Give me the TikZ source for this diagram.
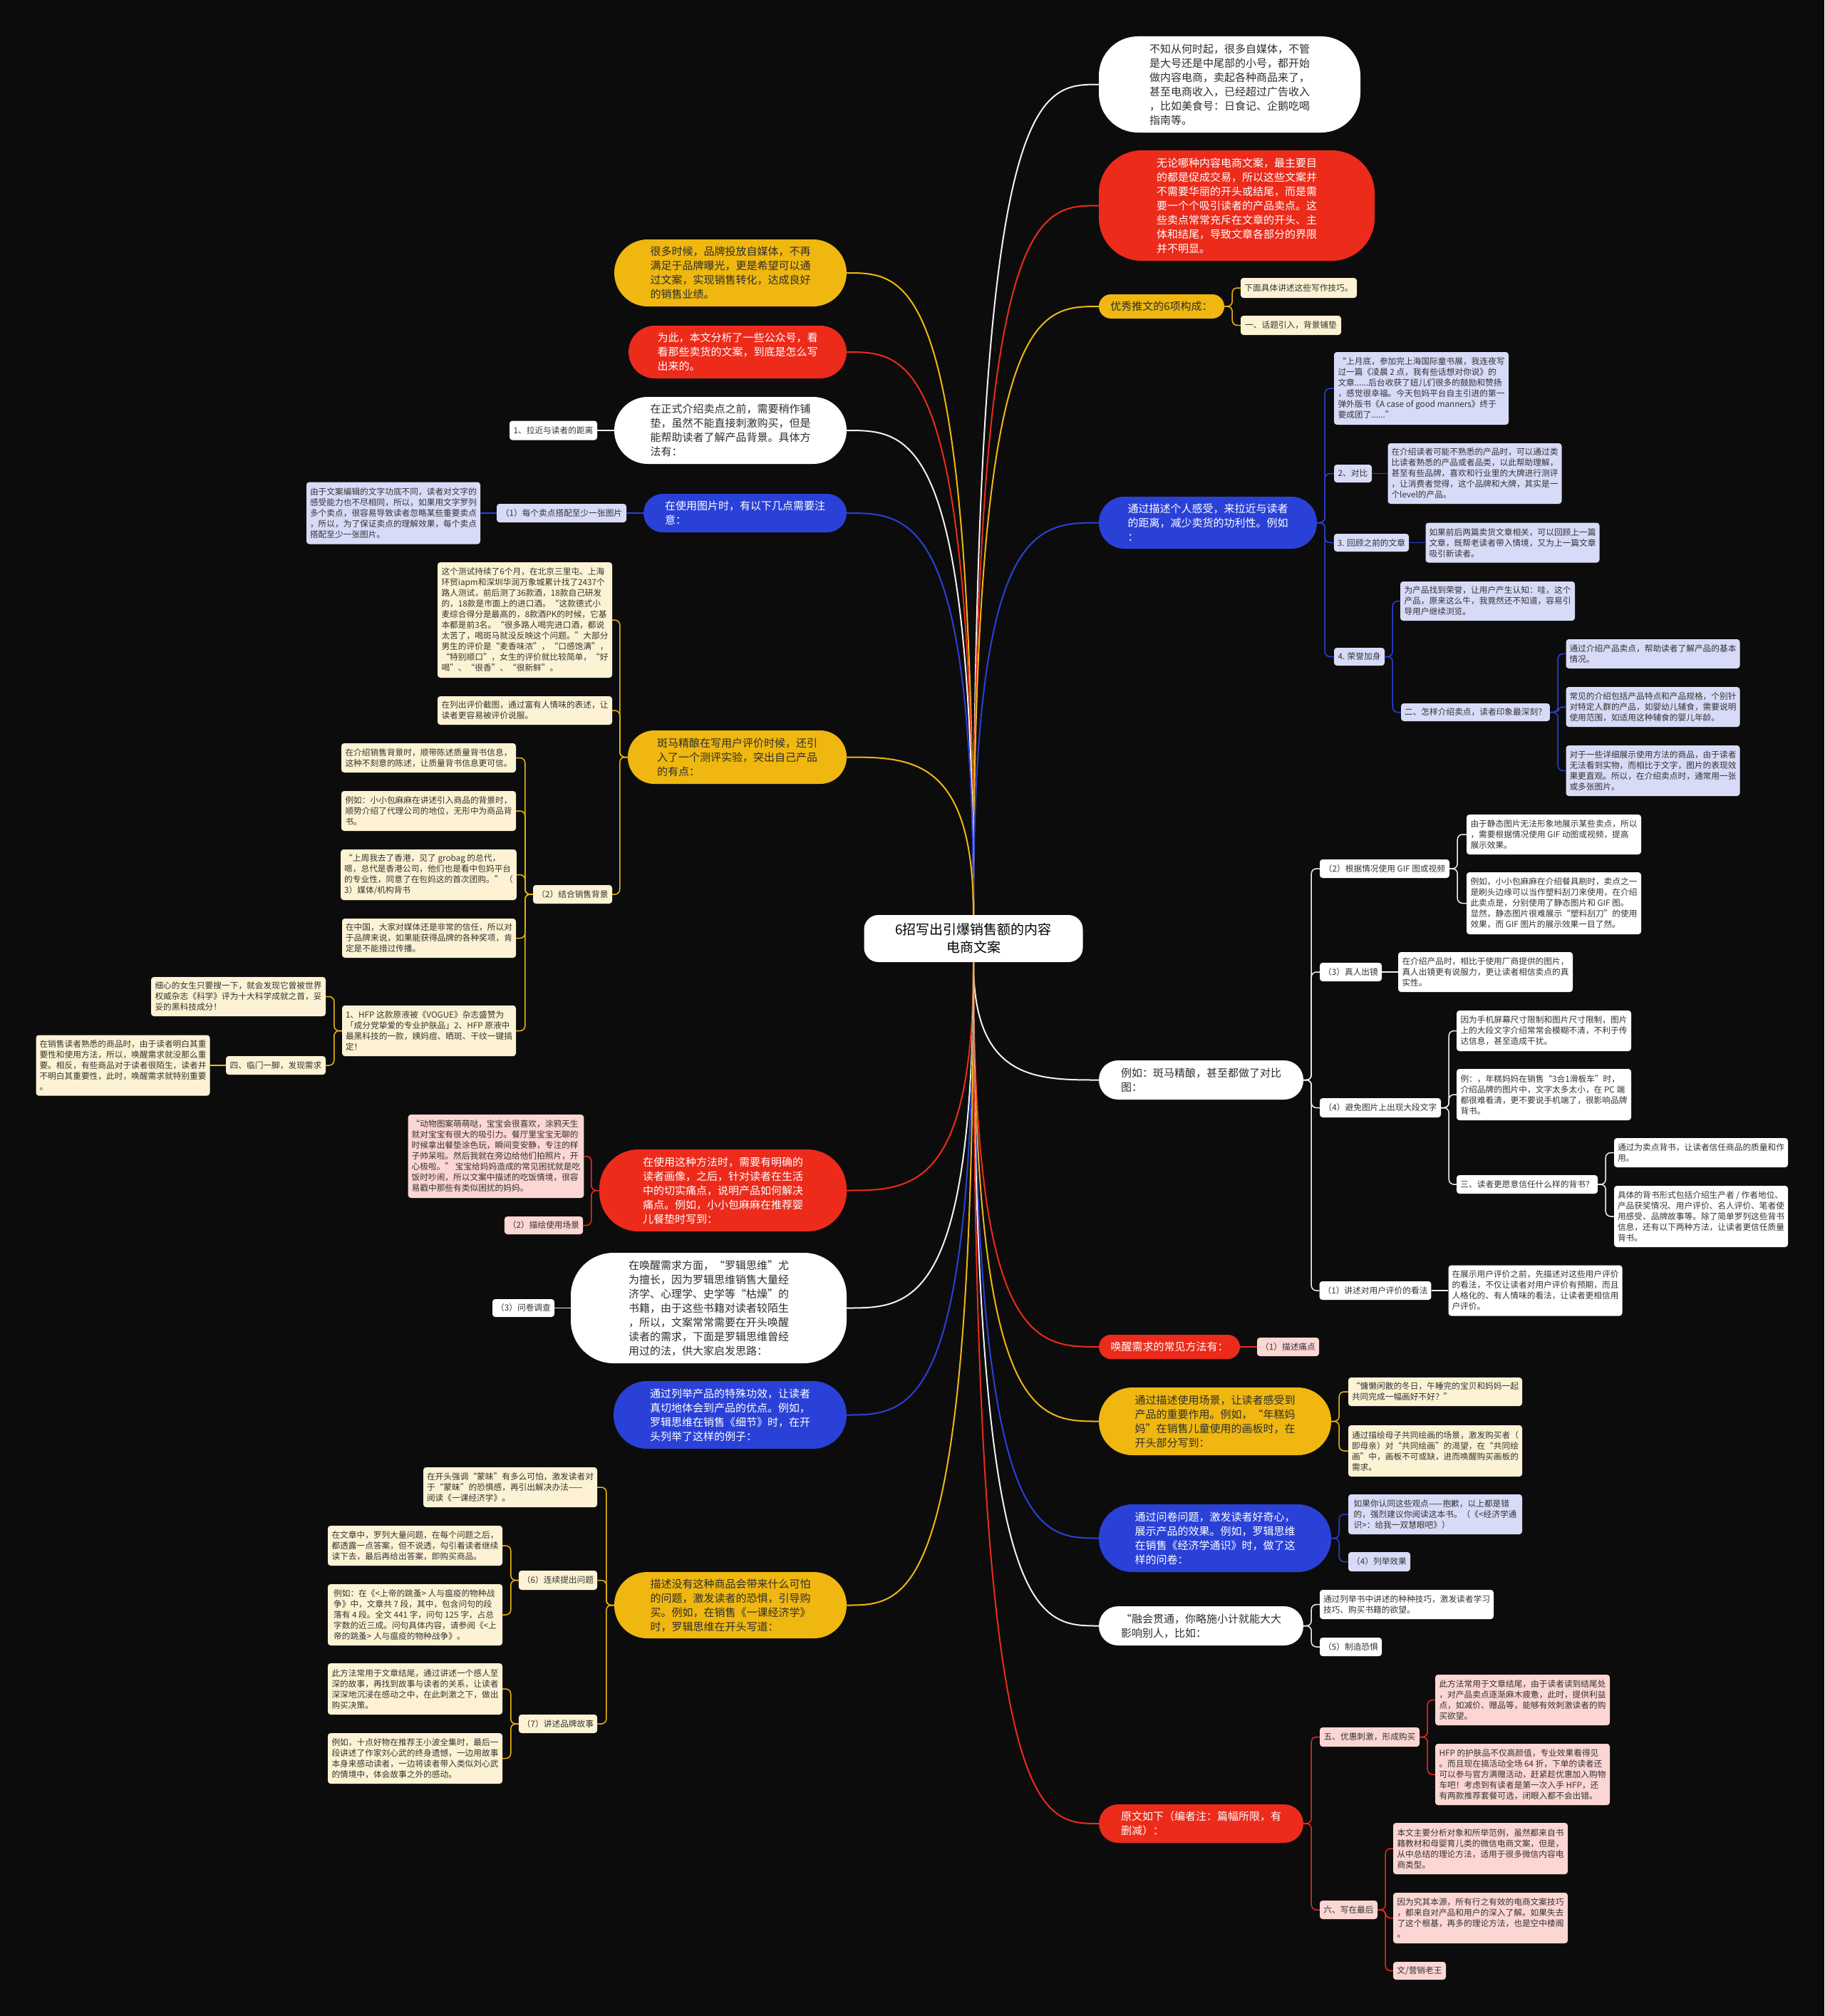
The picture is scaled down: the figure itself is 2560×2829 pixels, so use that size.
\documentclass[tikz,border=0pt]{standalone}
\usepackage{fontspec}
\setmainfont{Noto Sans CJK SC}
\usetikzlibrary{calc}
\definecolor{bgDark}{HTML}{0C0C0C}
\definecolor{topicYellow}{HTML}{EFB70F}
\definecolor{topicRed}{HTML}{EC2B1B}
\definecolor{topicBlue}{HTML}{2A41D8}
\definecolor{topicText}{HTML}{2E2E2E}
\definecolor{noteCream}{HTML}{FDF3D4}
\definecolor{noteLilac}{HTML}{D8DBF7}
\definecolor{notePink}{HTML}{FBD6D3}
\definecolor{noteText}{HTML}{333333}
\definecolor{lineWhite}{HTML}{F2F2F2}

\begin{document}
\begin{tikzpicture}[x=1pt, y=-1pt,
    rootbox/.style={fill=white, text=black, rounded corners=20pt, align=center, inner sep=0pt, font=\fontsize{19}{25}\selectfont},
    topic/.style={rounded corners=#1, align=left, inner sep=0pt, font=\fontsize{15}{20}\selectfont},
    ytopic/.style={topic=#1, fill=topicYellow, text=topicText},
    rtopic/.style={topic=#1, fill=topicRed, text=white},
    btopic/.style={topic=#1, fill=topicBlue, text=white},
    wtopic/.style={topic=#1, fill=white, text=topicText},
    note/.style={rounded corners=4pt, align=left, inner xsep=5pt, inner ysep=5pt, text=noteText, font=\fontsize{11.7}{15}\selectfont},
    ynote/.style={note, fill=noteCream},
    bnote/.style={note, fill=noteLilac},
    rnote/.style={note, fill=notePink},
    wnote/.style={note, fill=white},
    ycurve/.style={draw=topicYellow, line width=2pt},
    rcurve/.style={draw=topicRed, line width=2pt},
    bcurve/.style={draw=topicBlue, line width=2pt},
    wcurve/.style={draw=lineWhite, line width=2pt},
    ylink/.style={draw=topicYellow, line width=1.5pt, rounded corners=7pt},
    rlink/.style={draw=topicRed, line width=1.5pt, rounded corners=7pt},
    blink/.style={draw=topicBlue, line width=1.5pt, rounded corners=7pt},
    wlink/.style={draw=lineWhite, line width=1.5pt, rounded corners=7pt}]
    \def\branch#1#2#3{\draw[#1] (root.#2) .. controls (root.#2 |- #3) and ($(root.#2 |- #3)!0.5!(#3)$) .. (#3);}
    \def\toright#1#2#3{\draw[#1] (#2.east) -- ++(11,0) |- (#3.west);}
    \def\toleft#1#2#3{\draw[#1] (#2.west) -- ++(-11,0) |- (#3.east);}

    \fill[bgDark] (0,0) rectangle (2560,2829);

    \node[rootbox, minimum width=307pt, minimum height=66pt] (root) at (1366,1317) {6招写出引爆销售额的内容\\电商文案};

    % ---------- right side ----------
    \node[wtopic=55pt, minimum width=367pt, minimum height=135pt] (r1) at (1725.5,118.5) {不知从何时起，很多自媒体，不管\\是大号还是中尾部的小号，都开始\\做内容电商，卖起各种商品来了，\\甚至电商收入，已经超过广告收入\\，比如美食号：日食记、企鹅吃喝\\指南等。};
    \node[rtopic=60pt, minimum width=387pt, minimum height=155pt] (r2) at (1735.5,288.5) {无论哪种内容电商文案，最主要目\\的都是促成交易，所以这些文案并\\不需要华丽的开头或结尾，而是需\\要一个个吸引读者的产品卖点。这\\些卖点常常充斥在文章的开头、主\\体和结尾，导致文章各部分的界限\\并不明显。};

    \node[ytopic=17pt, minimum width=176pt, minimum height=34pt] (r3) at (1630,430) {优秀推文的6项构成：};
    \node[ynote, minimum width=163pt, minimum height=28pt] (r3a) at (1822.5,404) {下面具体讲述这些写作技巧。};
    \node[ynote, minimum width=141pt, minimum height=27pt] (r3b) at (1811.5,456.5) {一、话题引入，背景铺垫};

    \node[btopic=36pt, minimum width=306pt, minimum height=73pt] (r4) at (1695,733.5) {通过描述个人感受，来拉近与读者\\的距离，减少卖货的功利性。例如\\：};
    \node[bnote, minimum width=245pt, minimum height=102pt] (r4a) at (1994.5,545) {“上月底，参加完上海国际童书展，我连夜写\\过一篇《凌晨 2 点，我有些话想对你说》的\\文章......后台收获了妞儿们很多的鼓励和赞扬\\，感觉很幸福。今天包妈平台自主引进的第一\\弹外版书《A case of good manners》终于\\要成团了......”};
    \node[bnote, minimum width=53pt, minimum height=25pt] (r4b) at (1898.5,664.5) {2、对比};
    \node[bnote, minimum width=243pt, minimum height=85pt] (r4b1) at (2069.5,664.5) {在介绍读者可能不熟悉的产品时，可以通过类\\比读者熟悉的产品或者品类，以此帮助理解，\\甚至有些品牌，喜欢和行业里的大牌进行测评\\，让消费者觉得，这个品牌和大牌，其实是一\\个level的产品。};
    \node[bnote, minimum width=105pt, minimum height=25pt] (r4c) at (1924.5,761.5) {3. 回顾之前的文章};
    \node[bnote, minimum width=243pt, minimum height=56pt] (r4c1) at (2122.5,761.5) {如果前后两篇卖货文章相关，可以回顾上一篇\\文章，既帮老读者带入情境，又为上一篇文章\\吸引新读者。};
    \node[bnote, minimum width=71pt, minimum height=25pt] (r4d) at (1907.5,921.5) {4. 荣誉加身};
    \node[bnote, minimum width=245pt, minimum height=55pt] (r4d1) at (2087.5,843.5) {为产品找到荣誉，让用户产生认知：哇，这个\\产品，原来这么牛，我竟然还不知道，容易引\\导用户继续浏览。};
    \node[bnote, minimum width=207pt, minimum height=25pt] (r4d2) at (2070.5,999.5) {二、怎样介绍卖点，读者印象最深刻？};
    \node[bnote, minimum width=243pt, minimum height=41pt] (r4d2a) at (2319.5,917.5) {通过介绍产品卖点，帮助读者了解产品的基本\\情况。};
    \node[bnote, minimum width=243pt, minimum height=56pt] (r4d2b) at (2319.5,992) {常见的介绍包括产品特点和产品规格，个别针\\对特定人群的产品，如婴幼儿辅食，需要说明\\使用范围，如适用这种辅食的婴儿年龄。};
    \node[bnote, minimum width=243pt, minimum height=71pt] (r4d2c) at (2319.5,1081.5) {对于一些详细展示使用方法的商品，由于读者\\无法看到实物，而相比于文字，图片的表现效\\果更直观。所以，在介绍卖点时，通常用一张\\或多张图片。};

    \node[wtopic=27pt, minimum width=287pt, minimum height=55pt] (r5) at (1685.5,1515.5) {例如：斑马精酿，甚至都做了对比\\图：};
    \node[wnote, minimum width=182pt, minimum height=26pt] (r5a) at (1943,1219) {（2）根据情况使用 GIF 图或视频};
    \node[wnote, minimum width=245pt, minimum height=56pt] (r5a1) at (2180.5,1171) {由于静态图片无法形象地展示某些卖点，所以\\，需要根据情况使用 GIF 动图或视频，提高\\展示效果。};
    \node[wnote, minimum width=245pt, minimum height=87pt] (r5a2) at (2180.5,1267.5) {例如，小小包麻麻在介绍餐具刷时，卖点之一\\是刷头边缘可以当作塑料刮刀来使用，在介绍\\此卖点是，分别使用了静态图片和 GIF 图。\\显然，静态图片很难展示“塑料刮刀”的使用\\效果，而 GIF 图片的展示效果一目了然。};
    \node[wnote, minimum width=87pt, minimum height=26pt] (r5b) at (1895.5,1364) {（3）真人出镜};
    \node[wnote, minimum width=245pt, minimum height=56pt] (r5b1) at (2084.5,1364) {在介绍产品时，相比于使用厂商提供的图片，\\真人出镜更有说服力，更让读者相信卖点的真\\实性。};
    \node[wnote, minimum width=170pt, minimum height=27pt] (r5c) at (1937,1554.5) {（4）避免图片上出现大段文字};
    \node[wnote, minimum width=245pt, minimum height=57pt] (r5c1) at (2166.5,1446.5) {因为手机屏幕尺寸限制和图片尺寸限制，图片\\上的大段文字介绍常常会模糊不清，不利于传\\达信息，甚至造成干扰。};
    \node[wnote, minimum width=245pt, minimum height=72pt] (r5c2) at (2166.5,1536) {例：，年糕妈妈在销售“3合1滑板车”时，\\介绍品牌的图片中，文字太多太小，在 PC 端\\都很难看清，更不要说手机端了，很影响品牌\\背书。};
    \node[wnote, minimum width=198pt, minimum height=26pt] (r5c3) at (2143,1662) {三、读者更愿意信任什么样的背书？};
    \node[wnote, minimum width=244pt, minimum height=41pt] (r5c3a) at (2387,1617.5) {通过为卖点背书，让读者信任商品的质量和作\\用。};
    \node[wnote, minimum width=244pt, minimum height=86pt] (r5c3b) at (2387,1707) {具体的背书形式包括介绍生产者 / 作者地位、\\产品获奖情况、用户评价、名人评价、笔者使\\用感受、品牌故事等。除了简单罗列这些背书\\信息，还有以下两种方法，让读者更信任质量\\背书。};
    \node[wnote, minimum width=156pt, minimum height=26pt] (r5d) at (1930,1811) {（1）讲述对用户评价的看法};
    \node[wnote, minimum width=243pt, minimum height=71pt] (r5d1) at (2154.5,1811) {在展示用户评价之前，先描述对这些用户评价\\的看法，不仅让读者对用户评价有预期，而且\\人格化的、有人情味的看法，让读者更相信用\\户评价。};

    \node[rtopic=17pt, minimum width=198pt, minimum height=34pt] (r6) at (1641,1890) {唤醒需求的常见方法有：};
    \node[rnote, minimum width=87pt, minimum height=26pt] (r6a) at (1807.5,1890) {（1）描述痛点};

    \node[ytopic=47pt, minimum width=326pt, minimum height=95pt] (r7) at (1705,1994.5) {通过描述使用场景，让读者感受到\\产品的重要作用。例如，“年糕妈\\妈”在销售儿童使用的画板时，在\\开头部分写到：};
    \node[ynote, minimum width=244pt, minimum height=40pt] (r7a) at (2014,1953) {“慵懒闲散的冬日，午睡完的宝贝和妈妈一起\\共同完成一幅画好不好？”};
    \node[ynote, minimum width=244pt, minimum height=72pt] (r7b) at (2014,2036) {通过描绘母子共同绘画的场景，激发购买者（\\即母亲）对“共同绘画”的渴望，在“共同绘\\画”中，画板不可或缺，进而唤醒购买画板的\\需求。};

    \node[btopic=47pt, minimum width=326pt, minimum height=95pt] (r8) at (1705,2158.5) {通过问卷问题，激发读者好奇心，\\展示产品的效果。例如，罗辑思维\\在销售《经济学通识》时，做了这\\样的问卷：};
    \node[bnote, minimum width=244pt, minimum height=56pt] (r8a) at (2014,2125) {如果你认同这些观点——抱歉，以上都是错\\的，强烈建议你阅读这本书。（《<经济学通\\识>：给我一双慧眼吧》）};
    \node[bnote, minimum width=87pt, minimum height=27pt] (r8b) at (1935.5,2191.5) {（4）列举效果};

    \node[wtopic=27pt, minimum width=287pt, minimum height=55pt] (r9) at (1685.5,2281.5) {“融会贯通，你略施小计就能大大\\影响别人，比如：};
    \node[wnote, minimum width=244pt, minimum height=41pt] (r9a) at (1974,2251.5) {通过列举书中讲述的种种技巧，激发读者学习\\技巧、购买书籍的欲望。};
    \node[wnote, minimum width=87pt, minimum height=26pt] (r9b) at (1895.5,2311) {（5）制造恐惧};

    \node[rtopic=27pt, minimum width=287pt, minimum height=54pt] (r10) at (1685.5,2559) {原文如下（编者注：篇幅所限，有\\删减）：};
    \node[rnote, minimum width=140pt, minimum height=27pt] (r10a) at (1922,2437.5) {五、优惠刺激，形成购买};
    \node[rnote, minimum width=245pt, minimum height=71pt] (r10a1) at (2136.5,2385.5) {此方法常用于文章结尾，由于读者读到结尾处\\，对产品卖点逐渐麻木疲惫，此时，提供利益\\点，如减价、赠品等，能够有效刺激读者的购\\买欲望。};
    \node[rnote, minimum width=245pt, minimum height=86pt] (r10a2) at (2136.5,2490) {HFP 的护肤品不仅高颜值，专业效果看得见\\。而且现在搞活动全场 64 折，下单的读者还\\可以参与官方满赠活动，赶紧趁优惠加入购物\\车吧！考虑到有读者是第一次入手 HFP，还\\有两款推荐套餐可选，闭眼入都不会出错。};
    \node[rnote, minimum width=81pt, minimum height=26pt] (r10b) at (1892.5,2680) {六、写在最后};
    \node[rnote, minimum width=245pt, minimum height=72pt] (r10b1) at (2077.5,2594) {本文主要分析对象和所举范例，虽然都来自书\\籍教材和母婴育儿类的微信电商文案，但是，\\从中总结的理论方法，适用于很多微信内容电\\商类型。};
    \node[rnote, minimum width=245pt, minimum height=71pt] (r10b2) at (2077.5,2691.5) {因为究其本源，所有行之有效的电商文案技巧\\，都来自对产品和用户的深入了解。如果失去\\了这个根基，再多的理论方法，也是空中楼阁\\。};
    \node[rnote, minimum width=74pt, minimum height=25pt] (r10b3) at (1992,2765.5) {文/营销老王};

    % ---------- left side ----------
    \node[ytopic=47pt, minimum width=326pt, minimum height=94pt] (l1) at (1025,383) {很多时候，品牌投放自媒体，不再\\满足于品牌曝光，更是希望可以通\\过文案，实现销售转化，达成良好\\的销售业绩。};
    \node[rtopic=37pt, minimum width=306pt, minimum height=74pt] (l2) at (1035,494) {为此，本文分析了一些公众号，看\\看那些卖货的文案，到底是怎么写\\出来的。};
    \node[wtopic=47pt, minimum width=326pt, minimum height=94pt] (l3) at (1025,604) {在正式介绍卖点之前，需要稍作铺\\垫，虽然不能直接刺激购买，但是\\能帮助读者了解产品背景。具体方\\法有：};
    \node[wnote, minimum width=123pt, minimum height=27pt] (l3a) at (776.5,604) {1、拉近与读者的距离};

    \node[btopic=27pt, minimum width=285pt, minimum height=54pt] (l4) at (1045.5,720) {在使用图片时，有以下几点需要注\\意：};
    \node[bnote, minimum width=182pt, minimum height=26pt] (l4a) at (788,720) {（1）每个卖点搭配至少一张图片};
    \node[bnote, minimum width=244pt, minimum height=87pt] (l4a1) at (552,720) {由于文案编辑的文字功底不同，读者对文字的\\感受能力也不尽相同，所以，如果用文字罗列\\多个卖点，很容易导致读者忽略某些重要卖点\\，所以，为了保证卖点的理解效果，每个卖点\\搭配至少一张图片。};

    \node[ytopic=37pt, minimum width=307pt, minimum height=75pt] (l5) at (1034.5,1062.5) {斑马精酿在写用户评价时候，还引\\入了一个测评实验，突出自己产品\\的有点：};
    \node[ynote, minimum width=245pt, minimum height=162pt] (l5a) at (736.5,870) {这个测试持续了6个月，在北京三里屯、上海\\环贸iapm和深圳华润万象城累计找了2437个\\路人测试，前后测了36款酒，18款自己研发\\的，18款是市面上的进口酒。“这款德式小\\麦综合得分是最高的，8款酒PK的时候，它基\\本都是前3名。“很多路人喝完进口酒，都说\\太苦了，喝斑马就没反映这个问题。”大部分\\男生的评价是“麦香味浓”，“口感饱满”，\\“特别顺口”，女生的评价就比较简单，“好\\喝”、“很香”、“很新鲜”。};
    \node[ynote, minimum width=245pt, minimum height=40pt] (l5b) at (736.5,997) {在列出评价截图，通过富有人情味的表述，让\\读者更容易被评价说服。};
    \node[ynote, minimum width=111pt, minimum height=26pt] (l5c) at (803.5,1255) {（2）结合销售背景};
    \node[ynote, minimum width=245pt, minimum height=41pt] (l5c1) at (601.5,1063.5) {在介绍销售背景时，顺带陈述质量背书信息，\\这种不刻意的陈述，让质量背书信息更可信。};
    \node[ynote, minimum width=245pt, minimum height=56pt] (l5c2) at (601.5,1138) {例如：小小包麻麻在讲述引入商品的背景时，\\顺势介绍了代理公司的地位，无形中为商品背\\书。};
    \node[ynote, minimum width=245pt, minimum height=71pt] (l5c3) at (601.5,1227.5) {“上周我去了香港，见了 grobag 的总代，\\嗯，总代是香港公司，他们也是看中包妈平台\\的专业性，同意了在包妈这的首次团购。” （\\3）媒体/机构背书};
    \node[ynote, minimum width=244pt, minimum height=55pt] (l5c4) at (602,1316.5) {在中国，大家对媒体还是非常的信任，所以对\\于品牌来说，如果能获得品牌的各种奖项，肯\\定是不能措过传播。};
    \node[ynote, minimum width=244pt, minimum height=71pt] (l5c5) at (602,1446.5) {1、HFP 这款原液被《VOGUE》杂志盛赞为\\「成分党挚爱的专业护肤品」2、HFP 原液中\\最黑科技的一款，姨妈痘、晒斑、干纹一键搞\\定！};
    \node[ynote, minimum width=245pt, minimum height=55pt] (l5c5a) at (334.5,1398.5) {细心的女生只要搜一下，就会发现它曾被世界\\权威杂志《科学》评为十大科学成就之首，妥\\妥的黑科技成分！};
    \node[ynote, minimum width=140pt, minimum height=26pt] (l5c5b) at (387,1495) {四、临门一脚，发现需求};
    \node[ynote, minimum width=243pt, minimum height=85pt] (l5c5b1) at (172.5,1495) {在销售读者熟悉的商品时，由于读者明白其重\\要性和使用方法，所以，唤醒需求就没那么重\\要。相反，有些商品对于读者很陌生，读者并\\不明白其重要性，此时，唤醒需求就特别重要\\。};

    \node[rtopic=55pt, minimum width=347pt, minimum height=115pt] (l6) at (1014.5,1670.5) {在使用这种方法时，需要有明确的\\读者画像，之后，针对读者在生活\\中的切实痛点，说明产品如何解决\\痛点。例如，小小包麻麻在推荐婴\\儿餐垫时写到：};
    \node[rnote, minimum width=244pt, minimum height=117pt] (l6a) at (696,1622.5) {“动物图案萌萌哒，宝宝会很喜欢，涂鸦天生\\就对宝宝有很大的吸引力。餐厅里宝宝无聊的\\时候拿出餐垫涂色玩，瞬间变安静，专注的样\\子帅呆啦。然后我就在旁边给他们拍照片，开\\心极啦。” 宝宝给妈妈造成的常见困扰就是吃\\饭时吵闹，所以文案中描述的吃饭情境，很容\\易戳中那些有类似困扰的妈妈。};
    \node[rnote, minimum width=110pt, minimum height=25pt] (l6b) at (763,1719.5) {（2）描绘使用场景};

    \node[wtopic=60pt, minimum width=387pt, minimum height=155pt] (l7) at (994.5,1835.5) {在唤醒需求方面，“罗辑思维”尤\\为擅长，因为罗辑思维销售大量经\\济学、心理学、史学等“枯燥”的\\书籍，由于这些书籍对读者较陌生\\，所以，文案常常需要在开头唤醒\\读者的需求，下面是罗辑思维曾经\\用过的法，供大家启发思路：};
    \node[wnote, minimum width=87pt, minimum height=25pt] (l7a) at (734.5,1835.5) {（3）问卷调查};

    \node[btopic=47pt, minimum width=327pt, minimum height=95pt] (l8) at (1024.5,1985.5) {通过列举产品的特殊功效，让读者\\真切地体会到产品的优点。例如，\\罗辑思维在销售《细节》时，在开\\头列举了这样的例子：};

    \node[ytopic=46pt, minimum width=326pt, minimum height=93pt] (l9) at (1025,2252.5) {描述没有这种商品会带来什么可怕\\的问题，激发读者的恐惧，引导购\\买。例如，在销售《一课经济学》\\时，罗辑思维在开头写道：};
    \node[ynote, minimum width=244pt, minimum height=56pt] (l9a) at (716,2087) {在开头强调“蒙昧”有多么可怕，激发读者对\\于“蒙昧”的恐惧感，再引出解决办法——\\阅读《一课经济学》。};
    \node[ynote, minimum width=110pt, minimum height=27pt] (l9b) at (783,2217.5) {（6）连续提出问题};
    \node[ynote, minimum width=245pt, minimum height=56pt] (l9b1) at (582.5,2169) {在文章中，罗列大量问题，在每个问题之后，\\都透露一点答案，但不说透，勾引着读者继续\\读下去，最后再给出答案，即购买商品。};
    \node[ynote, minimum width=245pt, minimum height=86pt] (l9b2) at (582.5,2266) {例如：在《<上帝的跳蚤> 人与瘟疫的物种战\\争》中，文章共 7 段，其中，包含问句的段\\落有 4 段。全文 441 字，问句 125 字，占总\\字数的近三成。问句具体内容，请参阅《<上\\帝的跳蚤> 人与瘟疫的物种战争》。};
    \node[ynote, minimum width=110pt, minimum height=26pt] (l9c) at (783,2419) {（7）讲述品牌故事};
    \node[ynote, minimum width=245pt, minimum height=72pt] (l9c1) at (582.5,2370) {此方法常用于文章结尾，通过讲述一个感人至\\深的故事，再找到故事与读者的关系，让读者\\深深地沉浸在感动之中，在此刺激之下，做出\\购买决策。};
    \node[ynote, minimum width=245pt, minimum height=71pt] (l9c2) at (582.5,2467.5) {例如，十点好物在推荐王小波全集时，最后一\\段讲述了作家刘心武的终身遗憾，一边用故事\\本身来感动读者，一边将读者带入类似刘心武\\的情境中，体会故事之外的感动。};

    % ---------- branches from the root ----------
    \branch{wcurve}{north}{r1.west}
    \branch{rcurve}{north}{r2.west}
    \branch{ycurve}{north}{r3.west}
    \branch{bcurve}{north}{r4.west}
    \branch{wcurve}{south}{r5.west}
    \branch{rcurve}{south}{r6.west}
    \branch{ycurve}{south}{r7.west}
    \branch{bcurve}{south}{r8.west}
    \branch{wcurve}{south}{r9.west}
    \branch{rcurve}{south}{r10.west}
    \branch{ycurve}{north}{l1.east}
    \branch{rcurve}{north}{l2.east}
    \branch{wcurve}{north}{l3.east}
    \branch{bcurve}{north}{l4.east}
    \branch{ycurve}{north}{l5.east}
    \branch{rcurve}{south}{l6.east}
    \branch{wcurve}{south}{l7.east}
    \branch{bcurve}{south}{l8.east}
    \branch{ycurve}{south}{l9.east}

    % ---------- links to the notes ----------
    \foreach \c in {r3a,r3b} {\toright{ylink}{r3}{\c}}
    \foreach \c in {r4a,r4b,r4c,r4d} {\toright{blink}{r4}{\c}}
    \draw[blink] (r4b.east) -- (r4b1.west);
    \draw[blink] (r4c.east) -- (r4c1.west);
    \foreach \c in {r4d1,r4d2} {\toright{blink}{r4d}{\c}}
    \foreach \c in {r4d2a,r4d2b,r4d2c} {\toright{blink}{r4d2}{\c}}
    \foreach \c in {r5a,r5b,r5c,r5d} {\toright{wlink}{r5}{\c}}
    \foreach \c in {r5a1,r5a2} {\toright{wlink}{r5a}{\c}}
    \draw[wlink] (r5b.east) -- (r5b1.west);
    \foreach \c in {r5c1,r5c2,r5c3} {\toright{wlink}{r5c}{\c}}
    \foreach \c in {r5c3a,r5c3b} {\toright{wlink}{r5c3}{\c}}
    \draw[wlink] (r5d.east) -- (r5d1.west);
    \draw[rlink] (r6.east) -- (r6a.west);
    \foreach \c in {r7a,r7b} {\toright{ylink}{r7}{\c}}
    \foreach \c in {r8a,r8b} {\toright{blink}{r8}{\c}}
    \foreach \c in {r9a,r9b} {\toright{wlink}{r9}{\c}}
    \foreach \c in {r10a,r10b} {\toright{rlink}{r10}{\c}}
    \foreach \c in {r10a1,r10a2} {\toright{rlink}{r10a}{\c}}
    \foreach \c in {r10b1,r10b2,r10b3} {\toright{rlink}{r10b}{\c}}

    \draw[wlink] (l3.west) -- (l3a.east);
    \draw[blink] (l4.west) -- (l4a.east);
    \draw[blink] (l4a.west) -- (l4a1.east);
    \foreach \c in {l5a,l5b,l5c} {\toleft{ylink}{l5}{\c}}
    \foreach \c in {l5c1,l5c2,l5c3,l5c4,l5c5} {\toleft{ylink}{l5c}{\c}}
    \foreach \c in {l5c5a,l5c5b} {\toleft{ylink}{l5c5}{\c}}
    \draw[ylink] (l5c5b.west) -- (l5c5b1.east);
    \foreach \c in {l6a,l6b} {\toleft{rlink}{l6}{\c}}
    \draw[wlink] (l7.west) -- (l7a.east);
    \foreach \c in {l9a,l9b,l9c} {\toleft{ylink}{l9}{\c}}
    \foreach \c in {l9b1,l9b2} {\toleft{ylink}{l9b}{\c}}
    \foreach \c in {l9c1,l9c2} {\toleft{ylink}{l9c}{\c}}
\end{tikzpicture}
\end{document}
